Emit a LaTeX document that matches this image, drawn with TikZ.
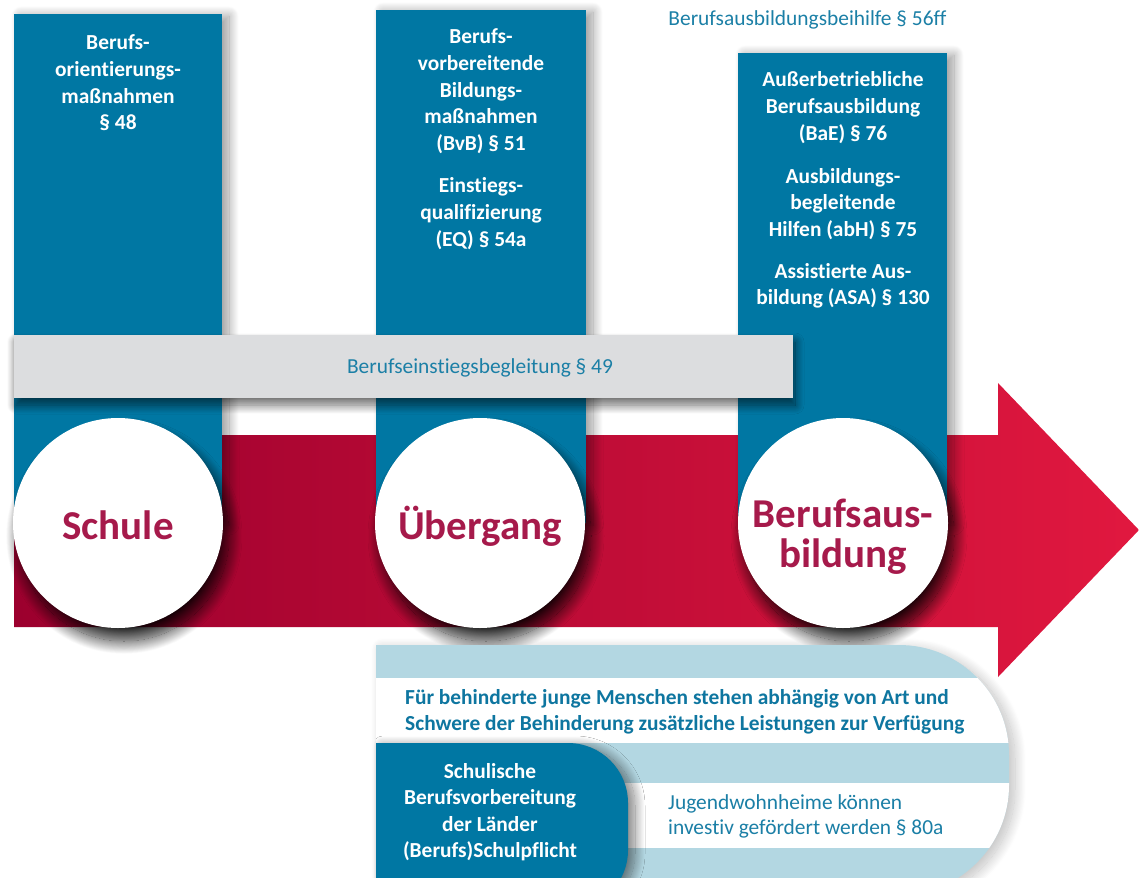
\documentclass[tikz,border=0pt]{standalone}
\usepackage{fontspec}
\setmainfont{Carlito}[Ligatures=NoCommon]
\usetikzlibrary{shadows.blur}
\definecolor{teal1}{HTML}{0077A3}
\definecolor{tealtext}{HTML}{1B7FA6}
\definecolor{tealbold}{HTML}{0E76A0}
\definecolor{redL}{HTML}{9C002E}
\definecolor{redR}{HTML}{E1183F}
\definecolor{rasp}{HTML}{A61A4B}
\definecolor{grayb}{HTML}{DCDDDF}
\definecolor{lblue}{HTML}{B3D7E2}
\tikzset{
  colbox/.style={fill=teal1, blur shadow={shadow xshift=7pt, shadow yshift=-2pt, shadow blur radius=10pt, shadow blur steps=24, shadow opacity=40}},
  barbox/.style={fill=grayb, blur shadow={shadow xshift=2pt, shadow yshift=-7pt, shadow blur radius=9pt, shadow blur steps=24, shadow opacity=60}},
  disc/.style={circle, fill=white, minimum size=210pt, inner sep=0pt, blur shadow={shadow xshift=6pt, shadow yshift=-13pt, shadow blur radius=13pt, shadow blur steps=28, shadow opacity=85}},
  coltext/.style={text=white, font=\fontsize{21.4}{26.6}\selectfont\bfseries, align=center, anchor=base, inner sep=0pt},
  circtext/.style={text=rasp, font=\fontsize{41}{40}\selectfont\bfseries, anchor=base, inner sep=0pt},
  thintext/.style={text=tealtext, font=\fontsize{21.4}{25}\selectfont, anchor=base, inner sep=0pt},
  boldtext/.style={text=tealbold, font=\fontsize{21.4}{26}\selectfont\bfseries, anchor=base west, align=left, inner sep=0pt},
}
\begin{document}
\begin{tikzpicture}[x=1pt,y=-1pt]
\useasboundingbox (0,0) rectangle (1139,877);
\clip (0,0) rectangle (1139,877);

% red arrow
\shade[left color=redL, right color=redR]
  (14,435) -- (998,435) -- (998,383) -- (1139,530) -- (998,677) -- (998,627) -- (14,627) -- cycle;

% columns
\path[colbox] (14,14) rectangle (222,523);
\path[colbox] (376,10) rectangle (586,523);
\path[colbox] (738,53) rectangle (947,523);

% gray bar
\path[barbox] (14,335) rectangle (793,398);
\node[thintext] (bar) at (480,373) {Berufseinstiegsbegleitung § 49};

% top label
\node[thintext] (bab) at (807.5,26) {Berufsausbildungsbeihilfe § 56ff};

% column texts (anchor = baseline of last line)
\node[coltext] (c1) at (118,129.8) {Berufs-\\orientierungs-\\maßnahmen\\§ 48};
\node[coltext] (c2a) at (481,150.4) {Berufs-\\vorbereitende\\Bildungs-\\maßnahmen\\(BvB) § 51};
\node[coltext] (c2b) at (481,246.2) {Einstiegs-\\qualifizierung\\(EQ) § 54a};
\node[coltext] (c3a) at (843,140.2) {Außerbetriebliche\\Berufsausbildung\\(BaE) § 76};
\node[coltext] (c3b) at (843,236.2) {Ausbildungs-\\begleitende\\Hilfen (abH) § 75};
\node[coltext] (c3c) at (843,304.6) {Assistierte Aus-\\bildung (ASA) § 130};

% circles
\node[disc] (schule) at (118,523) {};
\node[disc] (uebergang) at (480,523) {};
\node[disc] (ausbildung) at (843,523) {};
\node[circtext] (t1) at (118,539) {Schule};
\node[circtext] (t2) at (480,539) {Übergang};
\node[circtext] (t3a) at (843,527) {Berufsaus-};
\node[circtext] (t3b) at (843,567) {bildung};

% bottom striped box
\path[fill=lblue, blur shadow={shadow xshift=6pt, shadow yshift=-4pt, shadow blur radius=11pt, shadow blur steps=24, shadow opacity=25}]
  (376,645) -- (899,645) arc(270:360:110) -- (1009,785) arc(0:90:110) -- (376,895) -- cycle;
\begin{scope}
  \clip (376,645) -- (899,645) arc(270:360:110) -- (1009,785) arc(0:90:110) -- (376,895) -- cycle;
  \fill[white] (370,678) rectangle (1020,743);
  \fill[white] (370,783) rectangle (1020,848);
\end{scope}
\node[boldtext] (beh) at (405,730) {Für behinderte junge Menschen stehen abhängig von Art und\\Schwere der Behinderung zusätzliche Leistungen zur Verfügung};
\node[thintext, anchor=base west, align=left] (jwh) at (668,834) {Jugendwohnheime können\\investiv gefördert werden § 80a};

% teal rounded box
\path[fill=teal1, blur shadow={shadow xshift=7pt, shadow yshift=-3pt, shadow blur radius=10pt, shadow blur steps=24, shadow opacity=50}]
  (376,743) -- (568,743) arc(270:360:60) -- (628,850) arc(0:90:60) -- (376,910) -- cycle;
\node[coltext] (schul) at (490,857.8) {Schulische\\Berufsvorbereitung\\der Länder\\(Berufs)Schulpflicht};
\end{tikzpicture}
\end{document}
